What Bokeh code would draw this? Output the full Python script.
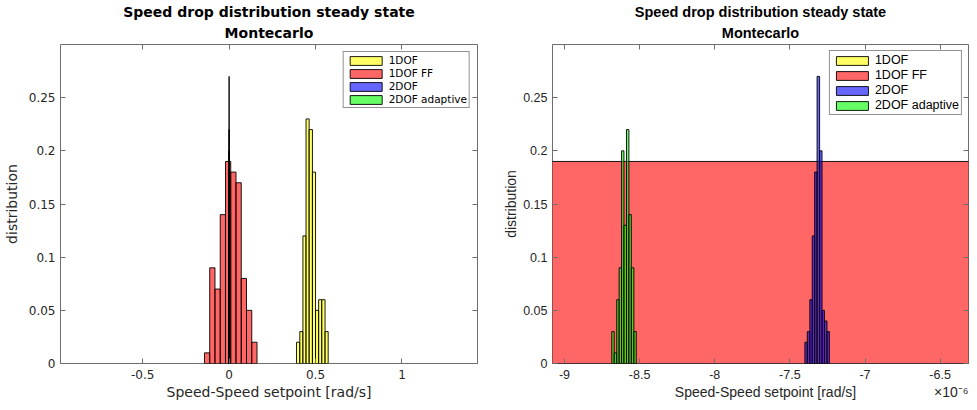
from bokeh.plotting import figure
from bokeh.layouts import row
from bokeh.models import (Range1d, FixedTicker, LinearAxis, Legend, LegendItem,
                          Title, ColumnDataSource)
from bokeh.embed import file_html
from bokeh.resources import INLINE

# ---------------- data ----------------
series_names = ["1DOF", "1DOF FF", "2DOF", "2DOF adaptive"]
series_colors = ["#ffff00", "#ff0000", "#0000ff", "#00ff00"]

# bin edges [rad/s] and probabilities of each histogram
dof1_edges = [0.390, 0.409, 0.427, 0.445, 0.463, 0.482, 0.500, 0.518, 0.536, 0.555, 0.573]
dof1_prob = [0.02, 0.03, 0.12, 0.23, 0.22, 0.18, 0.05, 0.06, 0.06, 0.03]

dof1ff_edges = [-0.1425, -0.1121, -0.0817, -0.0513, -0.0209, 0.0095, 0.0399, 0.0703, 0.1007, 0.1311, 0.1615]
dof1ff_prob = [0.01, 0.09, 0.07, 0.14, 0.19, 0.18, 0.17, 0.08, 0.05, 0.02]

dof2_edges = [-7.400e-6, -7.384e-6, -7.367e-6, -7.351e-6, -7.335e-6, -7.319e-6,
              -7.302e-6, -7.286e-6, -7.270e-6, -7.253e-6, -7.237e-6]
dof2_prob = [0.02, 0.03, 0.06, 0.12, 0.18, 0.27, 0.20, 0.05, 0.04, 0.03]

dof2ad_edges = [-8.685e-6, -8.669e-6, -8.652e-6, -8.636e-6, -8.620e-6, -8.604e-6,
                -8.587e-6, -8.571e-6, -8.555e-6, -8.538e-6, -8.522e-6]
dof2ad_prob = [0.03, 0.01, 0.06, 0.09, 0.20, 0.13, 0.22, 0.14, 0.09, 0.03]

all_edges = [dof1_edges, dof1ff_edges, dof2_edges, dof2ad_edges]
all_prob = [dof1_prob, dof1ff_prob, dof2_prob, dof2ad_prob]

x_ticks_left = [-0.5, 0, 0.5, 1]
x_labels_left = ["-0.5", "0", "0.5", "1"]
x_ticks_right = [-9e-6, -8.5e-6, -8e-6, -7.5e-6, -7e-6, -6.5e-6]
x_labels_right = ["-9", "-8.5", "-8", "-7.5", "-7", "-6.5"]
y_ticks = [0, 0.05, 0.1, 0.15, 0.2, 0.25]
y_labels = ["0", "0.05", "0.1", "0.15", "0.2", "0.25"]

title_line1 = "Speed drop distribution steady state"
title_line2 = "Montecarlo"
x_title = "Speed-Speed setpoint [rad/s]"
x_exponent = "×10⁻⁶"
y_title = "distribution"

AX = "#6e6e6e"
TXT = "#262626"


def style_axis(ax, ticks, labels, font, size, show):
    ax.ticker = FixedTicker(ticks=ticks)
    ax.axis_line_color = None
    ax.major_tick_line_color = AX
    ax.major_tick_in = 5
    ax.major_tick_out = 0
    ax.minor_tick_line_color = None
    ax.minor_tick_in = 0
    ax.minor_tick_out = 0
    if show:
        ax.major_label_overrides = {t: l for t, l in zip(ticks, labels)}
        ax.major_label_text_font = font
        ax.major_label_text_color = TXT
        ax.major_label_text_font_size = size
    else:
        ax.major_label_text_color = None
        ax.major_label_text_font_size = "0px"
        ax.major_label_standoff = 0


def make(xr, xt, xl, font, tick_size, title_font, title_size, width, height,
         mbl, mbr, ylab_standoff, leg_font, leg_size, leg_margin, xlabel_text, xlabel_align):
    p = figure(width=width, height=height, x_range=Range1d(*xr), y_range=Range1d(0, 0.3),
               output_backend="svg", toolbar_location=None,
               min_border_left=mbl, min_border_right=mbr, min_border_top=44,
               min_border_bottom=39)
    p.grid.visible = False
    p.outline_line_color = AX
    p.outline_line_width = 1
    p.background_fill_color = "white"
    p.border_fill_color = "white"
    p.title.text = ""

    style_axis(p.xaxis[0], xt, xl, font, tick_size, True)
    style_axis(p.yaxis[0], y_ticks, y_labels, font, tick_size, True)
    p.xaxis[0].major_label_standoff = 6
    p.yaxis[0].major_label_standoff = 5
    p.yaxis[0].axis_label = y_title
    p.yaxis[0].axis_label_text_font = font
    p.yaxis[0].axis_label_text_font_size = "14px"
    p.yaxis[0].axis_label_text_font_style = "normal"
    p.yaxis[0].axis_label_text_color = TXT
    p.yaxis[0].axis_label_standoff = ylab_standoff

    top = LinearAxis()
    style_axis(top, xt, xl, font, tick_size, False)
    p.add_layout(top, "above")
    right = LinearAxis()
    style_axis(right, y_ticks, y_labels, font, tick_size, False)
    p.add_layout(right, "right")

    # two-line title, each line centred
    t2 = Title(text=title_line2, align="center", text_font=title_font,
               text_font_size=title_size, text_font_style="bold", text_color="black",
               standoff=7)
    t1 = Title(text=title_line1, align="center", text_font=title_font,
               text_font_size=title_size, text_font_style="bold", text_color="black",
               standoff=0)
    p.add_layout(t2, "above")
    p.add_layout(t1, "above")

    xl_title = Title(text=xlabel_text, align=xlabel_align, text_font=font,
                     text_font_size="14px", text_font_style="normal", text_color=TXT,
                     standoff=1)
    p.add_layout(xl_title, "below")

    items = []
    for name, color, edges, prob in zip(series_names, series_colors, all_edges, all_prob):
        src = ColumnDataSource(dict(left=edges[:-1], right=edges[1:], top=prob,
                                    bottom=[0] * len(prob)))
        r = p.quad(left="left", right="right", top="top", bottom="bottom", source=src,
                   fill_color=color, fill_alpha=0.6, line_color="black", line_width=0.9)
        items.append(LegendItem(label=name, renderers=[r]))
    leg = Legend(items=items, location="top_right", margin=leg_margin, padding=2, spacing=1,
                 glyph_width=40, glyph_height=11, label_height=12, label_standoff=3,
                 label_text_font=leg_font, label_text_font_size=leg_size,
                 label_text_color="black", border_line_color=TXT, border_line_width=1,
                 background_fill_color="white", background_fill_alpha=1.0)
    p.add_layout(leg)
    return p


p1 = make((-0.9752, 1.4368), x_ticks_left, x_labels_left, "DejaVu Sans", "12px",
          "DejaVu Sans", "14px", 500, 402, 59, 23, 6, "DejaVu Sans", "10.5px", 7,
          x_title, "center")
p2 = make((-9.0795e-6, -6.3113e-6), x_ticks_right, x_labels_right, "Liberation Sans", "12.5px",
          "Liberation Sans", "14.5px", 469, 402, 50, 1, 1, "Liberation Sans", "12.5px", 6,
          x_title + "\u00a0" * 20 + x_exponent, "right")

layout = row(p1, p2)
open("out.html", "w").write(file_html(layout, INLINE))
